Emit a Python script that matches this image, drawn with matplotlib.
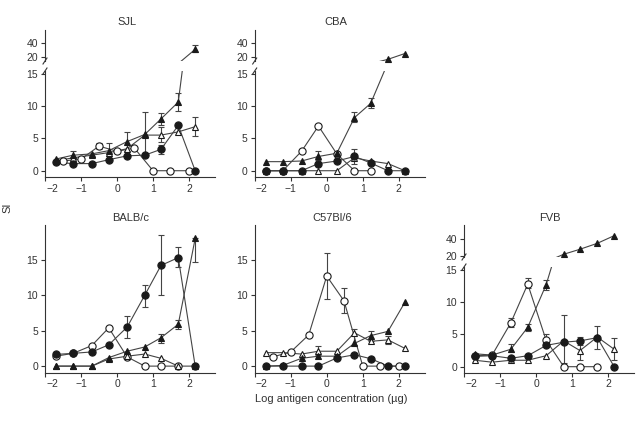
import matplotlib.pyplot as plt
from matplotlib.transforms import ScaledTranslation
from matplotlib.lines import Line2D

plt.rcParams["font.family"] = ["Liberation Sans", "DejaVu Sans"]
plt.rcParams["font.size"] = 8
plt.rcParams["text.color"] = "#333333"

# log antigen concentration (3-fold and half-log dilution series)
x_dose = [-1.7, -1.22, -0.7, -0.23, 0.28, 0.77, 1.22, 1.7, 2.17]
x_half = [-1.5, -1.0, -0.5, 0.0, 0.48, 1.0, 1.48, 2.0]

# SJL
sjl_fill_tri = [1.8, 2.4, 2.6, 3.1, 4.5, 5.6, 8.0, 10.6, 31]
sjl_open_tri = [1.5, 2.0, 2.4, 2.8, 3.4, 5.5, 5.5, 6.0, 6.8]
sjl_fill_circ = [1.3, 1.1, 1.1, 1.7, 2.3, 2.4, 3.3, 7.0, 0]
sjl_open_circ = [1.5, 1.8, 3.8, 3.0, 3.5, 0, 0, 0]
sjl_err_x = [-1.22, -0.5, -0.23, 0.28, 0.77, 1.22, 1.22, 1.22, 1.7, 2.17, 2.17]
sjl_err_lo = [2.0, 3.4, 2.2, 3.0, 2.1, 7.1, 4.4, 2.6, 9.2, 5.3, 27]
sjl_err_hi = [3.1, 4.3, 4.3, 6.0, 9.1, 8.9, 6.8, 4.0, 12.0, 8.3, 37]

# CBA
cba_fill_tri = [1.4, 1.4, 1.5, 2.2, 2.7, 8.2, 10.4, 16.7, 25]
cba_open_tri = [0, 0, 0, 0, 0, 2.0, 1.5, 1.1, 0]
cba_fill_circ = [0, 0, 0, 1.1, 1.5, 2.2, 1.2, 0, 0]
cba_open_circ = [0, 0, 3.0, 6.9, 2.6, 0, 0]
cba_err_x = [-0.23, 0.77, 0.77, 1.22]
cba_err_lo = [1.6, 1.0, 7.6, 9.7]
cba_err_hi = [3.0, 3.4, 9.0, 11.3]

# BALB/c
balb_fill_tri = [0, 0, 0, 1.2, 2.1, 2.7, 4.0, 5.9, 18.0]
balb_open_tri = [0, 0, 0, 1.0, 1.4, 1.7, 1.1, 0, 0]
balb_fill_circ = [1.65, 1.8, 2.0, 3.0, 5.5, 10.0, 14.2, 15.3, 0]
balb_open_circ = [1.4, 1.8, 2.9, 5.4, 1.3, 0, 0, 0]
balb_err_x = [0.28, 0.77, 1.22, 1.7, 1.22, 1.7, 2.17]
balb_err_lo = [4.0, 8.4, 10.0, 14.0, 3.2, 5.2, 14.7]
balb_err_hi = [7.0, 11.5, 18.5, 16.8, 4.5, 6.5, 18.0]

# C57Bl/6
c57_fill_tri = [0, 0.1, 1.1, 1.4, 1.4, 3.2, 4.3, 4.9, 9.0]
c57_open_tri = [1.9, 1.9, 1.7, 2.1, 2.1, 4.7, 3.5, 3.7, 2.5]
c57_fill_circ = [0, 0, 0, 0, 1.15, 1.6, 1.05, 0, 0]
c57_open_circ = [1.3, 2.0, 4.4, 12.7, 9.2, 0, 0, 0]
c57_err_x = [0.0, 0.48, -0.23, 0.77, 1.22, 1.7]
c57_err_lo = [9.5, 7.5, 1.5, 3.0, 3.6, 3.1]
c57_err_hi = [16.0, 11.0, 2.8, 5.3, 5.0, 4.3]

# FVB
fvb_fill_tri = [2.0, 1.8, 2.7, 6.1, 12.7, 21.7, 27.7, 34.8, 44]
fvb_open_tri = [1.0, 0.7, 1.0, 1.0, 1.7, 4.0, 2.5, 4.6, 2.7]
fvb_fill_circ = [1.6, 1.7, 1.3, 1.7, 3.3, 3.8, 4.0, 4.5, 0]
fvb_open_circ = [1.7, 1.8, 6.8, 12.8, 4.1, 0, 0, 0]
fvb_err_x = [-0.7, -0.23, 0.28, -0.7, -0.23, 0.28, 0.77, 1.22, 1.22, 1.7, 2.17]
fvb_err_lo = [6.2, 12.2, 3.5, 2.2, 5.6, 11.9, 0.5, 3.4, 1.0, 2.8, 1.0]
fvb_err_hi = [7.5, 13.8, 5.0, 3.5, 6.6, 13.5, 8.0, 4.6, 4.0, 6.3, 4.4]

W, H = 641, 421
fig = plt.figure(figsize=(W / 100, H / 100), dpi=100)

DARK = "#1a1a1a"
LINE = "#444444"


def box(x0, x1, y0, y1):
    return [x0 / W, 1 - y1 / H, (x1 - x0) / W, (y1 - y0) / H]


def series_list(ft, ot, fc, oc, oc_x):
    return [
        (oc_x, oc, "o", "white"),
        (x_dose[:len(ot)], ot, "^", "white"),
        (x_dose[:len(ft)], ft, "^", DARK),
        (x_dose[:len(fc)], fc, "o", DARK),
    ]


def draw(ax, series, ex, elo, ehi, min_y=None):
    for x, y, m, face in series:
        ax.plot(x, y, color=LINE, lw=0.8, zorder=2)
        if min_y is None:
            ax.plot(x, y, ls="none", marker=m, ms=5.2 if m == "o" else 5,
                    mfc=face, mec=DARK, mew=0.8, zorder=4)
        else:
            keep = [(a, b) for a, b in zip(x, y) if b > min_y]
            if keep:
                ax.plot([k[0] for k in keep], [k[1] for k in keep], ls="none",
                        marker=m, ms=5, mfc=face, mec=DARK, mew=0.8,
                        zorder=4, clip_on=False)
    for x, lo, hi in zip(ex, elo, ehi):
        if min_y is not None and lo < min_y:
            continue
        ax.errorbar([x], [(lo + hi) / 2], yerr=[(hi - lo) / 2], fmt="none",
                    ecolor=LINE, elinewidth=0.8, capsize=2.2, capthick=0.8,
                    zorder=3, clip_on=min_y is None)


def style(ax, yticks, show_x=True):
    for s in ["top", "right"]:
        ax.spines[s].set_visible(False)
    for s in ["left", "bottom"]:
        ax.spines[s].set_color("#333333")
        ax.spines[s].set_linewidth(0.8)
    ax.set_yticks(yticks)
    ax.tick_params(direction="out", length=3, width=0.8, colors="#333333",
                   labelsize=7.5, pad=2)
    if show_x:
        ax.set_xlim(-2.0, 2.72)
        ax.set_xticks([-2, -1, 0, 1, 2])
        lab = ax.get_xticklabels()[0]
        lab.set_transform(lab.get_transform()
                          + ScaledTranslation(0.07, 0, fig.dpi_scale_trans))
    else:
        ax.set_xlim(-2.0, 2.72)
        ax.spines["bottom"].set_visible(False)
        ax.set_xticks([])


def slash(px, py):
    fig.add_artist(Line2D([(px - 2) / W, (px + 2) / W],
                          [1 - (py + 3) / H, 1 - (py - 3) / H],
                          color="#333333", lw=0.8))


cols = [45, 254.7, 464]
cw = 170

panels = [
    ("SJL", 0, "top", series_list(sjl_fill_tri, sjl_open_tri, sjl_fill_circ,
                                  sjl_open_circ, x_half),
     sjl_err_x, sjl_err_lo, sjl_err_hi),
    ("CBA", 1, "top", series_list(cba_fill_tri, cba_open_tri, cba_fill_circ,
                                  cba_open_circ, x_dose[:len(cba_open_circ)]),
     cba_err_x, cba_err_lo, cba_err_hi),
    ("BALB/c", 0, "bottom", series_list(balb_fill_tri, balb_open_tri,
                                         balb_fill_circ, balb_open_circ,
                                         x_dose[:len(balb_open_circ)]),
     balb_err_x, balb_err_lo, balb_err_hi),
    ("C57Bl/6", 1, "bottom", series_list(c57_fill_tri, c57_open_tri,
                                          c57_fill_circ, c57_open_circ, x_half),
     c57_err_x, c57_err_lo, c57_err_hi),
    ("FVB", 2, "fvb", series_list(fvb_fill_tri, fvb_open_tri, fvb_fill_circ,
                                  fvb_open_circ, x_dose[:len(fvb_open_circ)]),
     fvb_err_x, fvb_err_lo, fvb_err_hi),
]

title_pos = {"SJL": (127, 22), "CBA": (336, 22), "BALB/c": (131, 218),
             "C57Bl/6": (332, 218), "FVB": (550, 218)}

for name, c, kind, series, ex, elo, ehi in panels:
    x0 = cols[c]
    if kind == "bottom":
        ax = fig.add_axes(box(x0, x0 + cw, 225, 372.5))
        ax.set_ylim(-0.9, 19.9)
        draw(ax, series, ex, elo, ehi)
        style(ax, [0, 5, 10, 15])
    else:
        if kind == "top":
            lo_box, up_box = (71, 177), (30, 61)
            lo_lim, up_lim = (-0.97, 15.4), (14.3, 58.6)
        else:
            lo_box, up_box = (267, 372.5), (225, 257)
            lo_lim, up_lim = (-0.9, 15.45), (18.4, 56.8)
        ax = fig.add_axes(box(x0, x0 + cw, *lo_box))
        ax.set_ylim(*lo_lim)
        draw(ax, series, ex, elo, ehi)
        style(ax, [0, 5, 10, 15])
        ax_up = fig.add_axes(box(x0, x0 + cw, *up_box))
        ax_up.set_ylim(*up_lim)
        ax_up.patch.set_visible(False)
        draw(ax_up, series, ex, elo, ehi, min_y=15.2)
        style(ax_up, [20, 40], show_x=False)
        slash(x0, lo_box[0])
        slash(x0, up_box[1])
    tx, ty = title_pos[name]
    fig.text(tx / W, 1 - ty / H, name, ha="center", va="center", fontsize=8)

fig.text(7 / W, 1 - 208 / H, "SI", rotation=90, ha="center", va="center",
         fontsize=8)
fig.text(331 / W, 1 - 399 / H, "Log antigen concentration (\u00b5g)",
         ha="center", va="center", fontsize=8)

fig.savefig("out.png", dpi=100)
